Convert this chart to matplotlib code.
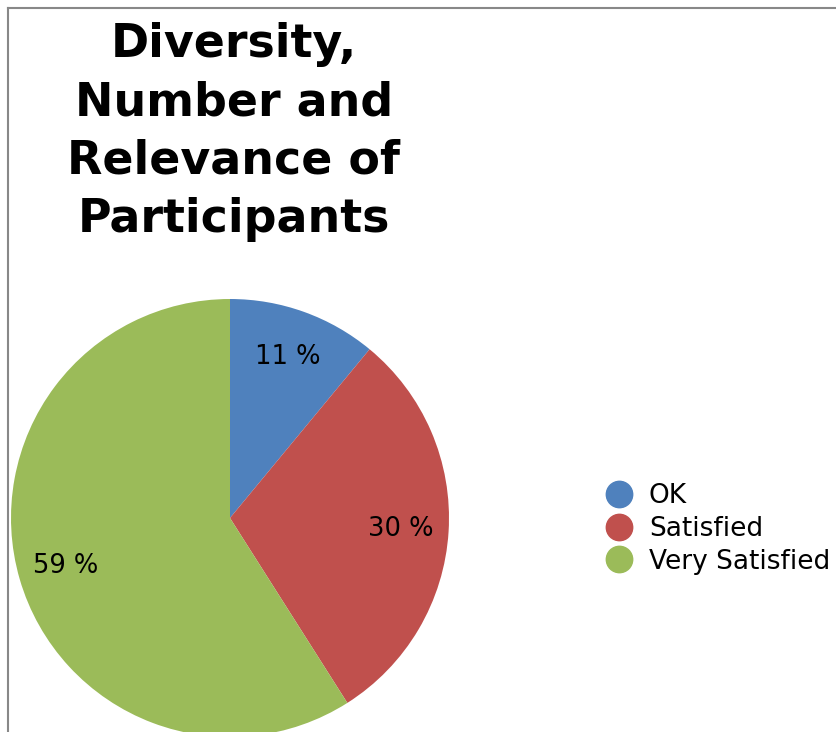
import matplotlib
matplotlib.use("Agg")
import matplotlib.pyplot as plt
from matplotlib.lines import Line2D

# data
labels = ['OK', 'Satisfied', 'Very Satisfied']
values = [11, 30, 59]
colors = ['#4F81BD', '#C0504D', '#9BBB59']
title = 'Diversity,\nNumber and\nRelevance of\nParticipants'

W, H = 837, 732
fig = plt.figure(figsize=(W / 100, H / 100), dpi=100)

# pie axes: center (230, 518) px, radius 219 px
cx, cy, r = 230, 518, 219
ax = fig.add_axes([(cx - r) / W, (H - cy - r) / H, 2 * r / W, 2 * r / H])
ax.pie(values, colors=colors, startangle=90, counterclock=False,
       autopct=lambda p: '%.0f %%' % p, pctdistance=0.78,
       textprops={'fontsize': 18.5, 'color': 'black'},
       wedgeprops={'linewidth': 0})
ax.set_xlim(-1, 1)
ax.set_ylim(-1, 1)
ax.set_aspect('auto')
ax.axis('off')

fig.text(234 / W, 1 - 132 / H, title, ha='center', va='center',
         fontsize=33, fontweight='bold', linespacing=1.38)

# legend
handles = [Line2D([], [], marker='o', linestyle='none', markersize=19,
                  markerfacecolor=c, markeredgecolor=c) for c in colors]
fig.legend(handles, labels, loc='center left',
           bbox_to_anchor=(594 / W, 1 - 529 / H), frameon=False,
           fontsize=19, handlelength=0.9, handletextpad=0.68,
           labelspacing=0.25, borderpad=0)

# frame lines
fig.add_artist(Line2D([8 / W, 1], [1 - 8 / H, 1 - 8 / H], color='#888888', lw=1.5))
fig.add_artist(Line2D([8 / W, 8 / W], [0, 1 - 8 / H], color='#888888', lw=1.5))

fig.savefig('out.png', dpi=100)
